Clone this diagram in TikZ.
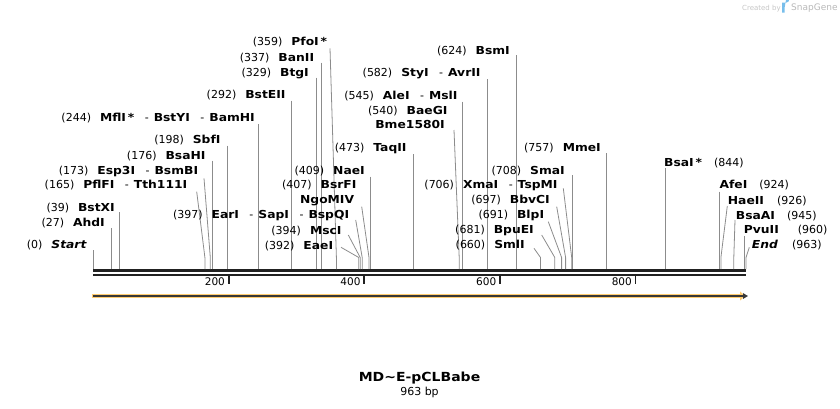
\documentclass[tikz,border=0pt]{standalone}
\usepackage{fontspec}
\setmainfont{DejaVu Sans}[BoldFeatures={FakeStretch=1.12},BoldItalicFeatures={FakeStretch=1.12}]
\usepackage{xcolor}
\usetikzlibrary{arrows.meta}
\definecolor{featorange}{RGB}{255,204,112}
\definecolor{sitegray}{RGB}{140,140,140}
\definecolor{snapblue}{RGB}{120,190,235}
\newcommand{\gap}{\hspace{9pt}}
\newcommand{\sep}{\hspace{10.5pt}-\hspace{5pt}}

\begin{document}
\begin{tikzpicture}[x=1pt, y=-1pt, >=latex,
  every node/.style={font=\fontsize{11}{13}\selectfont, inner sep=0pt, text height=8pt, text depth=0pt},
  cut/.style={draw=sitegray, line width=0.8pt},
  lblleft/.style={anchor=east},
  lblright/.style={anchor=west}]
  \useasboundingbox (0,0) rectangle (840,408);
  % Sekvenslinje (dobbel)
  \draw[line width=2.6pt, black!87] (93,270.3) -- (746,270.3);
  \draw[line width=2.6pt, black!87] (93,274.8) -- (746,274.8);
  % Skala
  \foreach \p/\x in {200/228.6, 400/364.2, 600/499.9, 800/635.5} {
    \draw[line width=1.8pt, black!87] (\x,276) -- (\x,283.5);
    \node[anchor=east, font=\fontsize{10.5}{12}\selectfont] (tick\p) at (\x-3.5,281.5) {\p};
  }
  % Kuttsteder, loddrette
  \foreach \x/\y in {93/250, 111.3/228, 119.4/212, 212.3/160.7, 227.3/145.5, 258.5/124,
      291/100.7, 316.1/77.5, 321.5/62.7, 370.3/176.5, 413.7/154, 462.6/101.7, 487.7/79,
      516.1/55, 572.5/175, 606.3/153, 665.3/168, 719.6/191.7, 744/236}
    \draw[cut] (\x,\y) -- (\x,269);
  % Kuttsteder, skrå
  \foreach \a/\b/\x in {196.7/191.7/204.9, 204/178.3/210.3, 330/48.3/336.4,
      361.7/206.7/369, 355.7/220/362.2, 348.3/235/360.2, 341/247.3/358.8,
      454/130/459.2, 563.3/188.3/571.7, 556.7/206.7/565.6, 548.3/221.7/561.6,
      541.7/235/554.8, 534/248.3/540.5, 727.3/206/720.9, 735/220/733.8, 749.3/247.3/746}
    \draw[cut] (\a,\b) -- (\x,257.5) -- (\x,269);
  % Venstre etiketter
  \node[lblleft] (start) at (87,244) {(0)\gap\textbf{\textit{Start}}};
  \node[lblleft] (ahdi) at (105,222) {(27)\gap\textbf{AhdI}};
  \node[lblleft] (bstxi) at (115,207) {(39)\gap\textbf{BstXI}};
  \node[lblleft] (pflfi) at (187.5,184.5) {(165)\gap\textbf{PflFI}\sep\textbf{Tth111I}};
  \node[lblleft] (esp3i) at (198.3,170) {(173)\gap\textbf{Esp3I}\sep\textbf{BsmBI}};
  \node[lblleft] (bsahi) at (205.7,155) {(176)\gap\textbf{BsaHI}};
  \node[lblleft] (sbfi) at (220.7,139.5) {(198)\gap\textbf{SbfI}};
  \node[lblleft] (mfli) at (255,117) {(244)\gap\textbf{MflI\,*}\sep\textbf{BstYI}\sep\textbf{BamHI}};
  \node[lblleft] (bsteii) at (285.7,94.5) {(292)\gap\textbf{BstEII}};
  \node[lblleft] (btgi) at (309,72.5) {(329)\gap\textbf{BtgI}};
  \node[lblleft] (banii) at (314.3,57) {(337)\gap\textbf{BanII}};
  \node[lblleft] (pfoi) at (327.3,41.5) {(359)\gap\textbf{PfoI\,*}};
  \node[lblleft] (naei) at (365,170) {(409)\gap\textbf{NaeI}};
  \node[lblleft] (bsrfi) at (356.7,184.5) {(407)\gap\textbf{BsrFI}};
  \node[lblleft] (ngomiv) at (354.3,199.5) {\textbf{NgoMIV}};
  \node[lblleft] (eari) at (349.3,214) {(397)\gap\textbf{EarI}\sep\textbf{SapI}\sep\textbf{BspQI}};
  \node[lblleft] (msci) at (341.7,230) {(394)\gap\textbf{MscI}};
  \node[lblleft] (eaei) at (333.3,245) {(392)\gap\textbf{EaeI}};
  \node[lblleft] (taqii) at (406.7,147) {(473)\gap\textbf{TaqII}};
  \node[lblleft] (alei) at (457.7,95) {(545)\gap\textbf{AleI}\sep\textbf{MslI}};
  \node[lblleft] (baegi) at (447.7,110) {(540)\gap\textbf{BaeGI}};
  \node[lblleft] (bme) at (445,124.5) {\textbf{Bme1580I}};
  \node[lblleft] (styi) at (480.7,72.3) {(582)\gap\textbf{StyI}\sep\textbf{AvrII}};
  \node[lblleft] (bsmi) at (510,50) {(624)\gap\textbf{BsmI}};
  \node[lblleft] (mmei) at (601,147) {(757)\gap\textbf{MmeI}};
  \node[lblleft] (smai) at (565,170) {(708)\gap\textbf{SmaI}};
  \node[lblleft] (xmai) at (557.7,184.5) {(706)\gap\textbf{XmaI}\sep\textbf{TspMI}};
  \node[lblleft] (bbvci) at (550,199.5) {(697)\gap\textbf{BbvCI}};
  \node[lblleft] (blpi) at (544.3,214.5) {(691)\gap\textbf{BlpI}};
  \node[lblleft] (bpuei) at (534,229.5) {(681)\gap\textbf{BpuEI}};
  \node[lblleft] (smli) at (525,244.5) {(660)\gap\textbf{SmlI}};
  % Høyre etiketter
  \node[lblright] (bsai) at (664,162.3) {\textbf{BsaI\,*}\hspace{12pt}(844)};
  \node[lblright] (afei) at (719.3,184) {\textbf{AfeI}\hspace{12pt}(924)};
  \node[lblright] (haeii) at (727.7,200) {\textbf{HaeII}\hspace{13pt}(926)};
  \node[lblright] (bsaai) at (735.7,215) {\textbf{BsaAI}\hspace{12pt}(945)};
  \node[lblright] (pvuii) at (743.7,229.5) {\textbf{PvuII}\hspace{19pt}(960)};
  \node[lblright] (end) at (751.7,244.3) {\textbf{\textit{End}}\hspace{14pt}(963)};
  % Egenskap (pil)
  \draw[featorange, line width=4.8pt, -{Triangle[length=5pt, width=9pt]}] (92,296) -- (745,296);
  \draw[black!78, line width=1.4pt, -{Triangle[length=5pt, width=5.5pt]}] (93,296) -- (748,296);
  % Tittel
  \node[font=\fontsize{12.5}{14}\selectfont\bfseries, text height=9.1pt] (title) at (419.5,377) {MD\textasciitilde E-pCLBabe};
  \node (length) at (419.5,391.5) {963 bp};
  % SnapGene-merke
  \node[anchor=west, font=\fontsize{7}{8}\selectfont, text=gray!45, text height=5pt] (createdby) at (742,7.5) {Created by};
  \fill[snapblue] (782,2.5) -- (786.5,2.5) arc (90:-90:2.6) -- (784.6,7.7) -- (784.6,12.5) -- (782,12.5) -- cycle;
  \node[anchor=west, font=\fontsize{9}{10}\selectfont, text=gray!55, text height=6.6pt] (snapgene) at (791,7.5) {SnapGene};
\end{tikzpicture}
\end{document}
